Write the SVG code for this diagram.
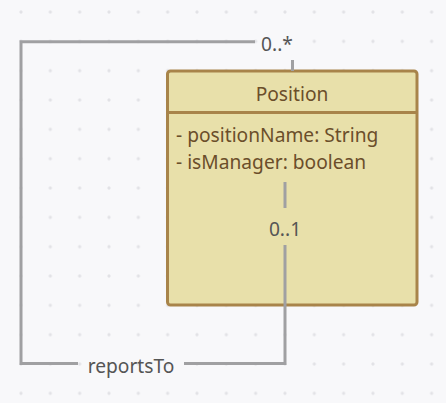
<svg xmlns="http://www.w3.org/2000/svg" width="446" height="403" viewBox="0 0 446 403">
<defs>
<pattern id="dots" x="21" y="70.7" width="29.33" height="29.33" patternUnits="userSpaceOnUse">
<circle cx="0" cy="0" r="1.6" fill="#e2e2e6"/>
<circle cx="29.33" cy="0" r="1.6" fill="#e2e2e6"/>
<circle cx="0" cy="29.33" r="1.6" fill="#e2e2e6"/>
<circle cx="29.33" cy="29.33" r="1.6" fill="#e2e2e6"/>
</pattern>
<style>
.conn{fill:none;stroke:#a0a0a2;stroke-width:3;stroke-linecap:butt}
.lbl{font-family:"Noto Sans","Open Sans",sans-serif;font-size:19.2px;fill:#555555}
.cls{fill:#e8e0aa;stroke:#a8844a;stroke-width:3}
.ctext{font-family:"Noto Sans","Open Sans",sans-serif;font-size:19.2px;fill:#6b4e2a}
</style>
</defs>
<rect width="446" height="403" fill="#f8f8fa"/>
<rect width="446" height="403" fill="url(#dots)"/>
<g id="Position">
<rect class="cls" x="167.5" y="71" width="249.5" height="234" rx="3"/>
<line x1="167.5" y1="112.5" x2="417" y2="112.5" stroke="#a8844a" stroke-width="3"/>
<text class="ctext" x="292" y="100.5" text-anchor="middle">Position</text>
<text class="ctext" x="176" y="141.5">- positionName: String</text>
<text class="ctext" x="176" y="169">- isManager: boolean</text>
</g>
<g id="connectors">
<polyline class="conn" points="255,41.7 21,41.7 21,363.5 78,363.5"/>
<polyline class="conn" points="184,363.5 285,363.5 285,245"/>
<line class="conn" x1="285" y1="182" x2="285" y2="208"/>
<line class="conn" x1="292.5" y1="60" x2="292.5" y2="71"/>
<text class="lbl" x="277" y="50.5" text-anchor="middle">0..*</text>
<text class="lbl" x="285" y="235.5" text-anchor="middle">0..1</text>
<text class="lbl" x="131" y="372.5" text-anchor="middle">reportsTo</text>
</g>
</svg>
